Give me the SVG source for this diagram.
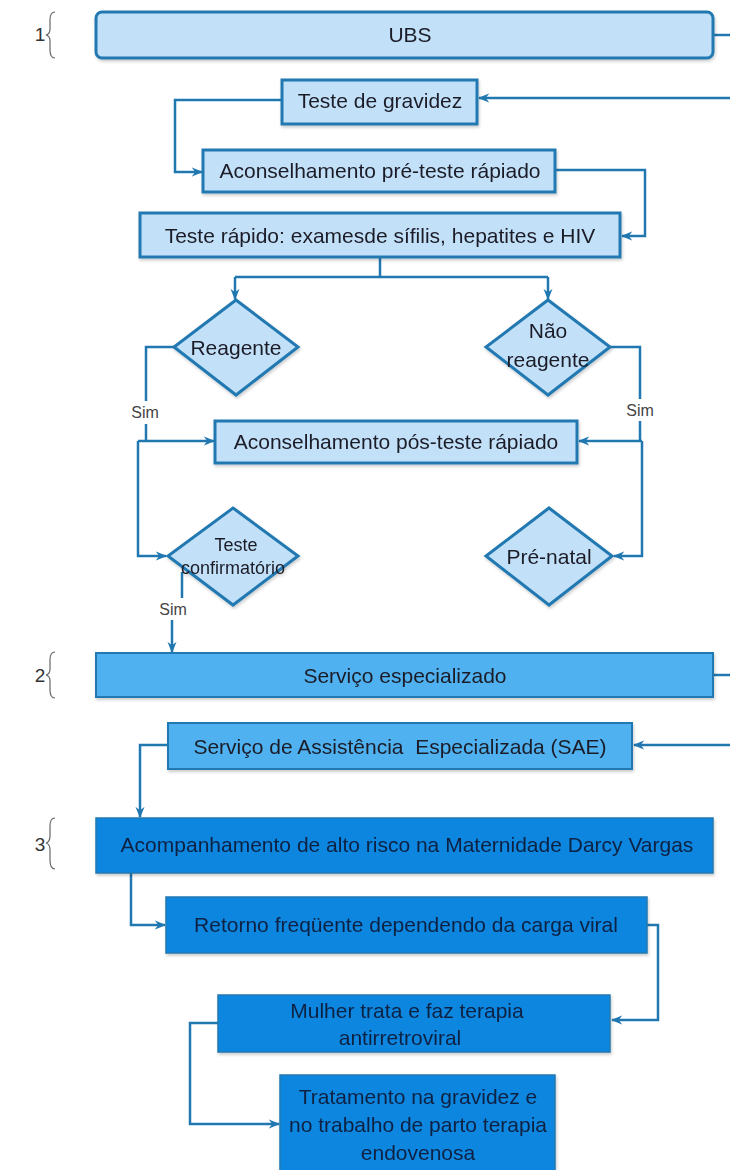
<svg xmlns="http://www.w3.org/2000/svg" width="730" height="1170" viewBox="0 0 730 1170">
<style>
.l{fill:#c2e1f9;stroke:#2178b0;stroke-width:3}
.m{fill:#4fb1ef;stroke:#2178b0;stroke-width:2}
.d{fill:#0b86e0;stroke:#2178b0;stroke-width:1.5}
.t{font-family:"Liberation Sans",Arial,sans-serif;font-size:21px;fill:#1c1c28;text-anchor:middle;dominant-baseline:central}
.td{fill:#0b2142}
.s{font-family:"Liberation Sans",Arial,sans-serif;font-size:16px;fill:#444;text-anchor:middle;dominant-baseline:central}
.n{font-family:"Liberation Sans",Arial,sans-serif;font-size:19px;fill:#333;text-anchor:middle;dominant-baseline:central}
.c{fill:none;stroke:#2178b0;stroke-width:2.5}
.b{fill:none;stroke:#666;stroke-width:1.2}
</style>
<defs>
<marker id="a" viewBox="0 0 10 10" refX="9" refY="5" markerWidth="4.5" markerHeight="4.5" orient="auto" markerUnits="strokeWidth"><path d="M0,1 L10,5 L0,9 L3,5 z" fill="#2178b0"/></marker>
<filter id="sh" x="-5%" y="-10%" width="110%" height="130%"><feDropShadow dx="1" dy="2" stdDeviation="1.5" flood-color="#000" flood-opacity="0.2"/></filter>
</defs>
<g id="labels">
<text class="n" x="40" y="34">1</text>
<path class="b" d="M55,12 Q50,12 50,20 L50,29 Q50,34 46,35 Q50,36 50,41 L50,50 Q50,58 55,58"/>
<text class="n" x="40" y="675">2</text>
<path class="b" d="M55,652 Q50,652 50,660 L50,669 Q50,674 46,675 Q50,676 50,681 L50,690 Q50,698 55,698"/>
<text class="n" x="40" y="844">3</text>
<path class="b" d="M55,818 Q50,818 50,826 L50,836 Q50,842 46,843 Q50,844 50,850 L50,860 Q50,869 55,869"/>
</g>
<g id="connectors">
<path class="c" d="M713,35 H730"/>
<path class="c" d="M730,98 H479" marker-end="url(#a)"/>
<path class="c" d="M282,100 H175 V172 H202" marker-end="url(#a)"/>
<path class="c" d="M555,170 H645 V236 H622" marker-end="url(#a)"/>
<path class="c" d="M380,257 V277"/>
<path class="c" d="M235,277 H548"/>
<path class="c" d="M235,277 V299" marker-end="url(#a)"/>
<path class="c" d="M548,277 V299" marker-end="url(#a)"/>
<path class="c" d="M174,347 H146 V401"/>
<path class="c" d="M146,424 V441"/>
<path class="c" d="M138,441 H214" marker-end="url(#a)"/>
<path class="c" d="M138,441 V556 H166" marker-end="url(#a)"/>
<path class="c" d="M610,347 H640 V399"/>
<path class="c" d="M640,421 V441"/>
<path class="c" d="M642,441 H579" marker-end="url(#a)"/>
<path class="c" d="M642,441 V556 H614" marker-end="url(#a)"/>
<path class="c" d="M182,572 V598"/>
<path class="c" d="M172,620 V652" marker-end="url(#a)"/>
<path class="c" d="M713,675 H730"/>
<path class="c" d="M730,745 H634" marker-end="url(#a)"/>
<path class="c" d="M168,745 H140 V817" marker-end="url(#a)"/>
<path class="c" d="M131,873 V925 H165" marker-end="url(#a)"/>
<path class="c" d="M647,925 H658 V1020 H612" marker-end="url(#a)"/>
<path class="c" d="M218,1023 H190 V1124 H279" marker-end="url(#a)"/>
<text class="s" x="145" y="412">Sim</text>
<text class="s" x="640" y="410">Sim</text>
<text class="s" x="173" y="609">Sim</text>
</g>
<g id="ubs" filter="url(#sh)"><rect class="l" x="96" y="12" width="617" height="46" rx="6" stroke-width="2"/><text class="t" x="410" y="34">UBS</text></g>
<g id="gravidez" filter="url(#sh)"><rect class="l" x="282" y="80" width="195" height="44"/><text class="t" x="380" y="100">Teste de gravidez</text></g>
<g id="preteste" filter="url(#sh)"><rect class="l" x="203" y="150" width="352" height="42"/><text class="t" x="380" y="170">Aconselhamento pré-teste rápiado</text></g>
<g id="testerapido" filter="url(#sh)"><rect class="l" x="140" y="213" width="480" height="44"/><text class="t" x="380" y="235">Teste rápido: examesde sífilis, hepatites e HIV</text></g>
<g id="reagente" filter="url(#sh)"><polygon class="l" stroke-width="2" points="236,300 298,347 236,395 174,347"/><text class="t" x="236" y="347">Reagente</text></g>
<g id="naoreagente" filter="url(#sh)"><polygon class="l" stroke-width="2" points="548,300 610,347 548,395 486,347"/><text class="t" x="548" y="330">Não</text><text class="t" x="548" y="359">reagente</text></g>
<g id="posteste" filter="url(#sh)"><rect class="l" x="215" y="421" width="362" height="42"/><text class="t" x="396" y="441">Aconselhamento pós-teste rápiado</text></g>
<g id="confirmatorio" filter="url(#sh)"><polygon class="l" stroke-width="2" points="233,508 298,556 233,605 168,556"/><text class="t" x="236" y="545" style="font-size:18px">Teste</text><text class="t" x="233" y="568" style="font-size:18px">confirmatório</text></g>
<g id="prenatal" filter="url(#sh)"><polygon class="l" stroke-width="2" points="549,508 612,556 549,605 486,556"/><text class="t" x="549" y="556">Pré-natal</text></g>
<g id="especializado" filter="url(#sh)"><rect class="m" x="96" y="653" width="617" height="44"/><text class="t" x="405" y="675">Serviço especializado</text></g>
<g id="sae" filter="url(#sh)"><rect class="m" x="168" y="723" width="464" height="46"/><text class="t" x="400" y="746" style="white-space:pre">Serviço de Assistência  Especializada (SAE)</text></g>
<g id="altorisco" filter="url(#sh)"><rect class="d" x="96" y="818" width="617" height="55"/><text class="t td" x="407" y="844">Acompanhamento de alto risco na Maternidade Darcy Vargas</text></g>
<g id="retorno" filter="url(#sh)"><rect class="d" x="166" y="897" width="481" height="56"/><text class="t td" x="406" y="924">Retorno freqüente dependendo da carga viral</text></g>
<g id="mulher" filter="url(#sh)"><rect class="d" x="218" y="995" width="392" height="57"/><text class="t td" x="407" y="1010">Mulher trata e faz terapia</text><text class="t td" x="400" y="1037">antirretroviral</text></g>
<g id="tratamento" filter="url(#sh)"><rect class="d" x="280" y="1075" width="275" height="100"/><text class="t td" x="418" y="1096">Tratamento na gravidez e</text><text class="t td" x="418" y="1124">no trabalho de parto terapia</text><text class="t td" x="418" y="1152">endovenosa</text></g>
</svg>
